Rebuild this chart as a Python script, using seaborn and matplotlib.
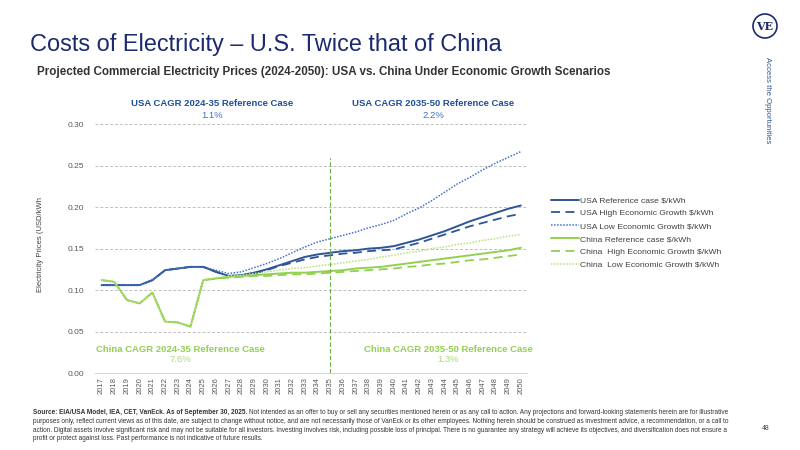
import matplotlib
matplotlib.use("Agg")
import matplotlib.pyplot as plt
import seaborn as sns
import pandas as pd
from matplotlib.patches import Ellipse

# years on the x axis
years = list(range(2017, 2051))

# USA scenarios ($/kWh)
usa_ref = [0.106, 0.106, 0.106, 0.106, 0.112, 0.124, 0.126, 0.128, 0.128, 0.122,
           0.117, 0.118, 0.121, 0.125, 0.130, 0.135, 0.140, 0.143, 0.145, 0.147,
           0.148, 0.150, 0.151, 0.153, 0.157, 0.161, 0.166, 0.171, 0.177, 0.183,
           0.188, 0.193, 0.198, 0.202]
usa_high = [0.106, 0.106, 0.106, 0.106, 0.112, 0.124, 0.126, 0.128, 0.128, 0.122,
            0.117, 0.118, 0.120, 0.124, 0.129, 0.133, 0.137, 0.140, 0.142, 0.144,
            0.145, 0.147, 0.148, 0.149, 0.153, 0.157, 0.162, 0.167, 0.172, 0.177,
            0.181, 0.185, 0.189, 0.192]
usa_low = [0.106, 0.106, 0.106, 0.106, 0.112, 0.124, 0.126, 0.128, 0.128, 0.124,
           0.120, 0.122, 0.127, 0.132, 0.138, 0.145, 0.152, 0.158, 0.162, 0.166,
           0.170, 0.175, 0.179, 0.184, 0.192, 0.199, 0.208, 0.218, 0.228, 0.236,
           0.245, 0.253, 0.260, 0.267]

# China scenarios ($/kWh)
china_ref = [0.112, 0.110, 0.088, 0.084, 0.097, 0.062, 0.061, 0.056, 0.112, 0.114,
             0.116, 0.117, 0.118, 0.119, 0.120, 0.121, 0.121, 0.122, 0.123, 0.124,
             0.126, 0.127, 0.128, 0.130, 0.132, 0.134, 0.136, 0.138, 0.140, 0.142,
             0.144, 0.146, 0.148, 0.151]
china_high = [0.112, 0.110, 0.088, 0.084, 0.097, 0.062, 0.061, 0.056, 0.112, 0.114,
              0.115, 0.116, 0.117, 0.117, 0.118, 0.119, 0.119, 0.120, 0.121, 0.122,
              0.123, 0.124, 0.125, 0.126, 0.128, 0.129, 0.131, 0.132, 0.134, 0.136,
              0.137, 0.139, 0.141, 0.143]
china_low = [0.112, 0.110, 0.088, 0.084, 0.097, 0.062, 0.061, 0.056, 0.112, 0.115,
             0.117, 0.118, 0.120, 0.122, 0.124, 0.126, 0.127, 0.129, 0.131, 0.133,
             0.135, 0.137, 0.140, 0.142, 0.145, 0.147, 0.150, 0.152, 0.155, 0.157,
             0.160, 0.162, 0.165, 0.167]

series_names = ["USA Reference case $/kWh", "USA High Economic Growth $/kWh",
                "USA Low Economic Growth $/kWh", "China Reference case $/kWh",
                "China  High Economic Growth $/kWh", "China  Low Economic Growth $/kWh"]
series_vals = [usa_ref, usa_high, usa_low, china_ref, china_high, china_low]

yticks = [0.00, 0.05, 0.10, 0.15, 0.20, 0.25, 0.30]

# styling per series
BLUE = "#2F5597"
BLUE_L = "#4472C4"
GREEN = "#92D050"
GREEN_L = "#B4E07C"
styles = [
    (BLUE, "-", 1.4),
    (BLUE, (0, (5, 3)), 1.3),
    (BLUE_L, (0, (1, 1)), 1.1),
    (GREEN, "-", 1.4),
    (GREEN, (0, (5, 3)), 1.3),
    (GREEN_L, (0, (1, 1)), 1.1),
]

sns.set_style("white")
plt.rcParams["font.family"] = ["Liberation Sans", "DejaVu Sans"]

fig = plt.figure(figsize=(8, 4.5), dpi=100)
ax = fig.add_axes([0.119, 0.171, 0.540, 0.553])

for name, vals, (c, ls, lw) in zip(series_names, series_vals, styles):
    df = pd.DataFrame({"year": years, "price": vals})
    sns.lineplot(data=df, x="year", y="price", ax=ax, color=c, linestyle=ls,
                 linewidth=lw, label=name)

# vertical divider at 2035
ax.plot([2035, 2035], [0, 0.259], color="#70AD47", lw=0.8, ls=(0, (4, 2)))

ax.set_xlim(2016.5, 2050.5)
ax.set_ylim(0, 0.30)
ax.set_xticks(years)
ax.set_xticklabels([str(y) for y in years], rotation=90, fontsize=5.5, color="#595959")
ax.set_xticks([y - 0.5 for y in years] + [2050.5], minor=True)
ax.tick_params(axis="x", which="major", length=0, pad=3)
ax.tick_params(axis="x", which="minor", length=3, color="#D9D9D9", width=0.6)
ax.set_yticks(yticks)
ax.set_yticklabels(["%.2f" % v for v in yticks], fontsize=6, color="#595959")
ax.tick_params(axis="y", length=0, pad=8)
ax.set_xlabel("")
ax.set_ylabel("")
for y in yticks[1:]:
    ax.axhline(y, color="#BFBFBF", lw=0.7, ls=(0, (3, 2)), zorder=0)
for s in ["top", "right", "left"]:
    ax.spines[s].set_visible(False)
ax.spines["bottom"].set_color("#D9D9D9")
ax.spines["bottom"].set_linewidth(0.8)

leg = ax.legend(loc="upper left", bbox_to_anchor=(543 / 800, 1 - 189 / 450),
                bbox_transform=fig.transFigure, frameon=False, fontsize=6.1,
                handlelength=3.3, handletextpad=0.2, labelspacing=0.58,
                labelcolor="#404040")

def px(x, y):
    return x / 800, 1 - y / 450

fig.text(*px(40, 245), "Electricity Prices (USD/kWh", rotation=90, fontsize=5.5,
         color="#404040", ha="center", va="center")

# titles
fig.text(*px(30, 45), "Costs of Electricity \u2013 U.S. Twice that of China",
         fontsize=16.9, color="#1C2B6E", va="center", ha="left")
fig.text(*px(37, 72), "Projected Commercial Electricity Prices (2024-2050): USA vs. China Under Economic Growth Scenarios",
         fontsize=8.35, fontweight="bold", color="#333333", va="center", ha="left")

# CAGR annotations
fig.text(*px(212, 104), "USA CAGR 2024-35 Reference Case", fontsize=6.8, fontweight="bold",
         color="#1F4E99", ha="center", va="center")
fig.text(*px(212, 116), "1.1%", fontsize=6.8, color="#4472C4", ha="center", va="center")
fig.text(*px(433, 104), "USA CAGR 2035-50 Reference Case", fontsize=6.8, fontweight="bold",
         color="#1F4E99", ha="center", va="center")
fig.text(*px(433, 116), "2.2%", fontsize=6.8, color="#4472C4", ha="center", va="center")
fig.text(*px(180, 349), "China CAGR 2024-35 Reference Case", fontsize=6.8, fontweight="bold",
         color="#92D050", ha="center", va="center")
fig.text(*px(180, 360), "7.6%", fontsize=6.8, color="#A9DA74", ha="center", va="center")
fig.text(*px(448, 349), "China CAGR 2035-50 Reference Case", fontsize=6.8, fontweight="bold",
         color="#92D050", ha="center", va="center")
fig.text(*px(448, 360), "1.3%", fontsize=6.8, color="#A9DA74", ha="center", va="center")

# logo and side text
fig.patches.append(Ellipse(px(765, 26), 24 / 800, 24 / 450, transform=fig.transFigure,
                           facecolor="white", edgecolor="#1C2B6E", lw=1.2))
fig.text(*px(765, 26), "VE", fontsize=8, fontweight="bold", family="DejaVu Serif",
         color="#1C2B6E", ha="center", va="center")
fig.text(*px(767, 100), "Access the Opportunities", rotation=-90, fontsize=5.6,
         color="#2F5597", ha="center", va="center")

# footer
fs = 4.72
renderer = fig.canvas.get_renderer()
t0 = fig.text(*px(33, 413), "Source: EIA/USA Model, IEA, CET, VanEck. As of September 30, 2025.",
              fontsize=fs, fontweight="bold", color="#333333", va="center", ha="left")
bb = t0.get_window_extent(renderer=renderer)
fig.text((bb.x1 + 2) / 800, 1 - 413 / 450,
         "Not intended as an offer to buy or sell any securities mentioned herein or as any call to action. Any projections and forward-looking statements herein are for illustrative",
         fontsize=fs, color="#333333", va="center", ha="left")
footer_lines = [
    "purposes only, reflect current views as of this date, are subject to change without notice, and are not necessarily those of VanEck or its other employees. Nothing herein should be construed as investment advice, a recommendation, or a call to",
    "action. Digital assets involve significant risk and may not be suitable for all investors. Investing involves risk, including possible loss of principal. There is no guarantee any strategy will achieve its objectives, and diversification does not ensure a",
    "profit or protect against loss. Past performance is not indicative of future results.",
]
for i, line in enumerate(footer_lines):
    fig.text(*px(33, 421.5 + 8.5 * i), line, fontsize=fs, color="#333333", va="center", ha="left")
fig.text(*px(766, 429), "48", fontsize=5, color="#404040", ha="center", va="center")

fig.savefig("out.png", dpi=100)
